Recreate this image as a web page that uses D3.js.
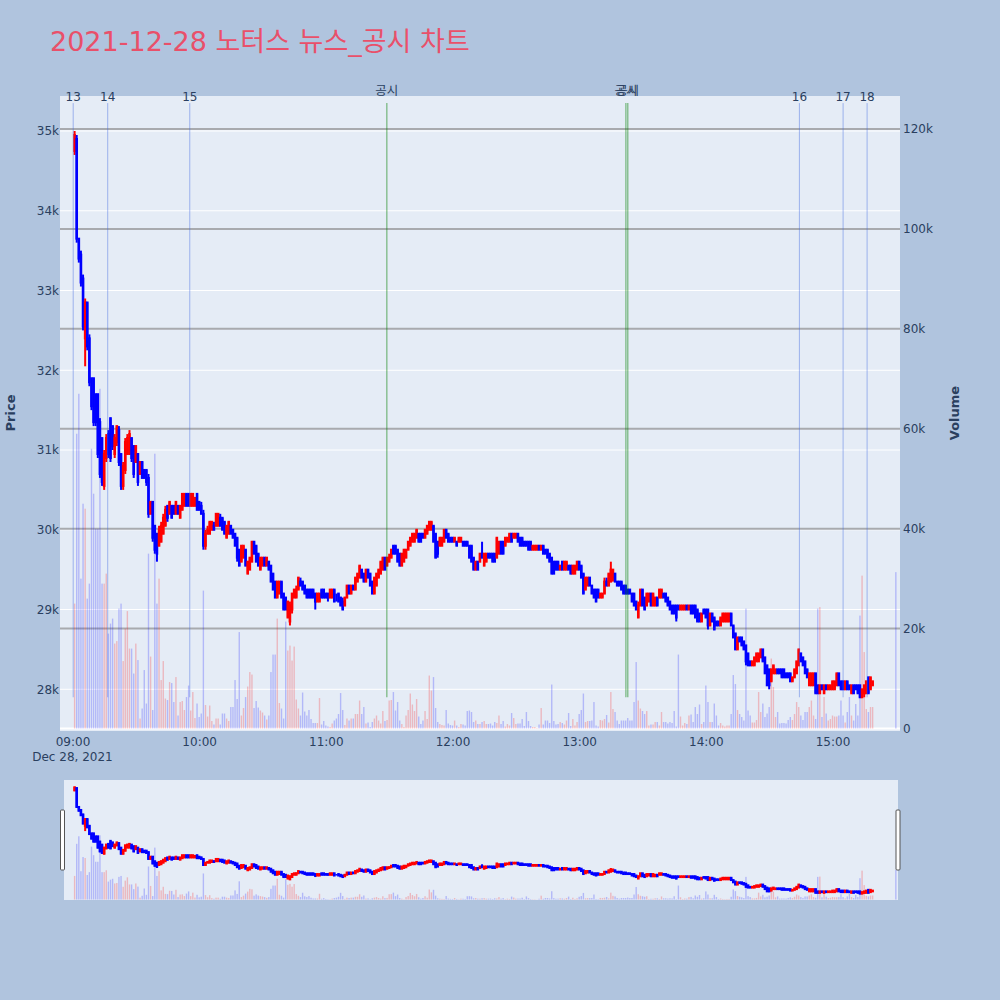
<!DOCTYPE html>
<html><head><meta charset="utf-8">
<script src="https://cdn.jsdelivr.net/npm/d3@7"></script>
<style>
body{margin:0;background:#b0c4de;}
svg{display:block;font-family:"DejaVu Sans","Noto Sans CJK KR",sans-serif;}
</style>
</head><body>
<svg id="chart" width="1000" height="1000"></svg>
<script>
// ---------------- DATA ----------------
const chartTitle = "2021-12-28 노터스 뉴스_공시 차트";
const dateLabel = "Dec 28, 2021";
const firstBar = "09:01", lastBar = "15:19", closingAuction = "15:30";

const openPrices = [
34750,34900,33650,33450,33150,32400,32850,32400,31900,31900,
31700,31700,31350,31150,30550,30900,31200,31400,31300,30950,
31100,31250,30950,30550,30750,30950,30950,31150,31050,30850,
30950,30700,30850,30750,30750,30650,30200,30350,30050,29950,
29800,29850,29950,30050,30300,30200,30300,30300,30200,30300,
30150,30250,30300,30450,30450,30300,30300,30300,30450,30350,
30300,30200,29800,29950,29950,30000,30050,30050,30050,30150,
30150,30100,29900,29950,30050,30000,29950,29900,29750,29600,
29650,29750,29450,29500,29600,29850,29800,29700,29500,29550,
29650,29550,29600,29550,29450,29350,29150,29200,29350,29200,
29150,28900,28850,29000,29150,29150,29250,29350,29350,29300,
29250,29250,29250,29250,29200,29100,29100,29250,29250,29200,
29200,29150,29150,29250,29150,29200,29150,29100,29050,29150,
29300,29200,29300,29250,29350,29400,29500,29450,29350,29500,
29450,29350,29200,29300,29400,29450,29500,29650,29550,29600,
29650,29800,29800,29750,29700,29550,29600,29650,29750,29800,
29850,29850,29900,29950,29950,29950,29900,29950,30000,30000,
30050,29950,29850,29800,29800,29850,30000,29950,29900,29900,
29850,29850,29850,29850,29850,29850,29850,29800,29800,29650,
29500,29600,29600,29700,29550,29600,29700,29700,29700,29700,
29650,29700,29850,29850,29800,29850,29850,29950,29900,29900,
29950,29900,29900,29850,29850,29850,29850,29750,29750,29750,
29800,29750,29800,29750,29750,29700,29650,29600,29600,29600,
29500,29600,29500,29500,29550,29550,29450,29450,29500,29600,
29550,29450,29250,29300,29400,29300,29250,29250,29250,29150,
29150,29200,29350,29300,29350,29400,29450,29350,29350,29350,
29300,29300,29250,29250,29200,29200,29100,28900,29050,29250,
29150,29050,29100,29200,29050,29050,29150,29150,29150,29200,
29200,29150,29100,29050,29050,29050,29050,29000,29000,29000,
29050,29000,29050,29050,29050,29000,28950,28850,29000,29000,
29000,28800,28950,28900,28850,28850,28800,28850,28850,28850,
28850,28950,28800,28700,28500,28650,28650,28600,28550,28450,
28350,28300,28300,28350,28350,28400,28500,28400,28300,28250,
28100,28200,28200,28250,28250,28250,28250,28200,28200,28200,
28100,28150,28200,28300,28450,28400,28350,28250,28050,28050,
28050,28200,28050,27950,28050,27950,28050,28000,28000,28000,
28000,28050,28200,28100,28100,28000,28100,28050,27950,28050,
28050,28050,28050,27900,27950,27950,28150,28000,28050];

const highPrices = [
35000,34950,33650,33500,33200,32900,32850,32450,31900,31900,
31700,31700,31400,31150,31000,31200,31250,31400,31300,31200,
31300,31300,30950,30850,31150,31200,31250,31150,31050,31050,
30950,30850,30850,30750,30750,30700,30350,30350,30050,29950,
30050,30100,30200,30300,30300,30350,30300,30300,30350,30300,
30300,30450,30450,30450,30450,30450,30450,30400,30450,30350,
30350,30250,30000,30050,30100,30100,30100,30200,30200,30200,
30150,30100,30050,30100,30050,30000,29950,29900,29750,29800,
29800,29750,29600,29650,29850,29850,29800,29700,29650,29650,
29650,29650,29600,29550,29450,29350,29350,29350,29350,29200,
29150,29100,29100,29200,29250,29300,29400,29400,29350,29300,
29250,29250,29250,29250,29200,29200,29200,29250,29250,29200,
29200,29250,29250,29250,29200,29200,29150,29150,29150,29300,
29300,29300,29300,29400,29450,29550,29500,29450,29500,29500,
29450,29350,29400,29450,29500,29600,29650,29650,29650,29700,
29750,29800,29800,29750,29700,29700,29750,29750,29850,29900,
29950,29950,30000,29950,29950,29950,30000,30050,30100,30100,
30050,29950,29850,29900,29900,30000,30000,29950,29900,29900,
29900,29850,29900,29900,29850,29850,29850,29800,29800,29650,
29600,29600,29700,29850,29700,29700,29700,29700,29700,29700,
29900,29850,29850,29850,29900,29900,29950,29950,29950,29950,
29950,29900,29900,29850,29850,29850,29850,29800,29800,29800,
29800,29800,29800,29750,29750,29700,29650,29600,29600,29600,
29550,29600,29600,29600,29550,29550,29550,29550,29600,29600,
29550,29450,29400,29400,29400,29300,29250,29250,29250,29200,
29200,29400,29400,29450,29600,29500,29450,29350,29350,29350,
29300,29300,29250,29250,29200,29200,29100,29100,29250,29250,
29150,29200,29200,29200,29200,29150,29150,29250,29250,29200,
29200,29150,29100,29050,29050,29050,29050,29050,29050,29050,
29050,29050,29050,29050,29050,29000,28950,28950,29000,29000,
29000,28950,28950,28900,28850,28850,28900,28950,28950,28950,
28950,28950,28800,28700,28650,28650,28650,28600,28550,28450,
28350,28350,28400,28450,28450,28500,28500,28400,28300,28250,
28250,28300,28250,28250,28250,28250,28250,28200,28200,28200,
28150,28250,28350,28500,28450,28400,28350,28250,28200,28200,
28200,28200,28050,28050,28050,28050,28050,28050,28050,28100,
28100,28200,28200,28100,28100,28100,28100,28050,28050,28050,
28050,28050,28050,28000,28050,28100,28150,28150,28100];

const lowPrices = [
34700,33600,33350,33050,32500,32050,32250,31800,31500,31300,
31300,30900,30650,30550,30500,30850,30900,30850,31000,30900,
31050,30800,30500,30500,30700,30950,30950,30850,30650,30850,
30550,30700,30650,30650,30550,30150,30200,29850,29700,29600,
29800,29850,29950,30050,30100,30200,30150,30200,30200,30200,
30150,30250,30300,30300,30300,30300,30300,30300,30250,30250,
30200,29750,29750,29950,29950,30000,30000,30050,30050,30050,
30000,29950,29900,29950,29950,29900,29800,29600,29550,29600,
29650,29550,29450,29500,29600,29700,29600,29550,29500,29550,
29550,29550,29500,29350,29250,29150,29150,29200,29150,29000,
29000,28900,28800,28950,29150,29150,29250,29300,29250,29200,
29150,29150,29150,29150,29000,29100,29100,29150,29150,29150,
29100,29150,29150,29100,29100,29100,29050,29000,29050,29150,
29200,29200,29250,29250,29350,29400,29400,29350,29350,29400,
29300,29200,29200,29300,29400,29450,29500,29500,29550,29600,
29650,29700,29700,29600,29550,29550,29600,29650,29750,29800,
29850,29850,29900,29850,29850,29900,29900,29950,30000,30000,
29850,29650,29650,29800,29800,29850,29900,29850,29850,29850,
29850,29800,29850,29850,29800,29800,29800,29650,29600,29500,
29500,29500,29600,29650,29550,29600,29650,29650,29600,29600,
29650,29700,29700,29700,29800,29850,29850,29850,29900,29900,
29850,29800,29800,29800,29800,29750,29750,29750,29750,29750,
29750,29750,29700,29700,29650,29600,29450,29450,29500,29500,
29500,29500,29500,29500,29500,29450,29450,29450,29500,29500,
29400,29200,29250,29300,29300,29200,29150,29100,29150,29150,
29150,29200,29300,29300,29350,29350,29350,29300,29300,29250,
29200,29200,29200,29200,29100,29050,29000,28900,29050,29050,
29000,29050,29100,29050,29050,29050,29050,29150,29150,29150,
29100,29050,29000,28950,28950,28850,29000,29000,29000,29000,
29000,29000,28950,28950,28900,28850,28850,28850,28950,28900,
28750,28800,28850,28750,28800,28800,28800,28850,28850,28850,
28850,28800,28650,28500,28500,28600,28550,28500,28300,28300,
28300,28300,28300,28350,28350,28400,28350,28200,28050,28000,
28100,28200,28200,28200,28200,28150,28150,28150,28150,28100,
28100,28150,28200,28300,28350,28300,28200,28150,28050,28050,
28050,27950,27950,27950,28000,27950,28000,28000,28000,28000,
28000,28050,28050,28000,28000,28000,28000,28000,27950,27950,
28000,27950,27900,27900,27900,27950,27950,28000,28050];

const closePrices = [
34950,33650,33400,33100,32550,32850,32300,31850,31550,31350,
31350,30950,30700,30600,30950,31150,30950,30900,31050,31150,
31300,30850,30550,30800,31100,31150,31200,30900,30700,31050,
30600,30850,30650,30650,30600,30200,30350,29900,29750,29700,
30000,30050,30150,30250,30150,30350,30150,30200,30350,30200,
30300,30450,30450,30300,30300,30450,30450,30400,30250,30250,
30200,29800,29950,30000,30100,30100,30000,30200,30200,30050,
30000,29950,30050,30100,29950,29900,29800,29650,29550,29800,
29800,29550,29600,29650,29850,29700,29600,29550,29650,29650,
29550,29650,29500,29350,29250,29150,29350,29350,29150,29000,
29000,29100,29050,29200,29250,29250,29400,29300,29250,29200,
29150,29150,29150,29150,29100,29200,29200,29150,29150,29150,
29150,29250,29250,29100,29150,29100,29050,29000,29150,29300,
29200,29300,29250,29400,29450,29550,29400,29350,29500,29400,
29300,29200,29400,29450,29500,29600,29650,29500,29650,29650,
29750,29700,29700,29600,29550,29700,29750,29750,29850,29900,
29950,29950,30000,29850,29850,29900,30000,30050,30100,30100,
29850,29650,29700,29900,29900,30000,29900,29850,29850,29850,
29900,29800,29900,29900,29800,29800,29800,29650,29600,29500,
29600,29500,29700,29650,29700,29700,29650,29650,29600,29600,
29900,29850,29700,29700,29900,29900,29950,29850,29950,29950,
29850,29800,29800,29800,29800,29750,29750,29800,29800,29800,
29750,29800,29700,29700,29650,29600,29450,29450,29500,29500,
29550,29500,29600,29600,29500,29450,29550,29550,29600,29500,
29400,29200,29400,29400,29300,29200,29150,29100,29150,29200,
29200,29350,29300,29450,29500,29500,29350,29300,29300,29250,
29200,29200,29200,29200,29100,29050,29000,29050,29250,29050,
29000,29200,29200,29050,29200,29150,29050,29250,29250,29150,
29100,29050,29000,28950,28950,28900,29000,29050,29050,29050,
29000,29050,28950,28950,28900,28850,28850,28950,28950,28900,
28800,28950,28850,28750,28800,28800,28900,28950,28950,28950,
28950,28800,28650,28500,28650,28600,28550,28500,28350,28300,
28300,28350,28400,28450,28450,28500,28350,28200,28050,28050,
28250,28300,28250,28200,28200,28150,28150,28150,28150,28100,
28150,28250,28350,28500,28350,28300,28200,28150,28200,28200,
28200,27950,27950,28050,28000,28050,28000,28050,28050,28100,
28100,28200,28050,28000,28000,28100,28000,28000,28050,27950,
28000,27950,27900,28000,28050,28100,27950,28150,28100];

// volume per minute, in thousands of shares
const volumeK = [
25,59,67,30,45,44,26,29,56,47,
40,40,68,29,29,31,19,21,22,17,
17.5,24,25,13.5,20,23.5,16,16,11,17,
13.7,2,4,11.7,5,35,14.4,3.7,55,25,
30,9.7,13.5,6,5.7,9.3,9.1,5.3,10.3,2.6,
5.3,5.5,3.7,6.3,8.6,3.6,7.3,2.1,5,2.3,
3,27.6,4.7,2.4,4.6,1.5,0.8,2,2,0.8,
3,3,2,1.5,4.3,4.3,9.7,5.9,19.3,2.6,
4.1,6.3,8.4,11.3,10.8,4.1,5.5,4.2,3.6,3.2,
2.6,1.8,2.6,11.3,14.8,14.8,22,5.1,4,2,
21.4,15.6,16.6,13.6,16.4,5.8,4,2.6,7.2,3.4,
2.6,3.7,1.9,1.1,1.1,1.1,6.1,0.8,1.5,0.6,
0.4,0.3,1,1.6,2,2.9,7.1,3.7,0.7,2,
1.6,2,2,2.9,2.9,5.6,2.9,4.3,1,1.2,
0.3,1.3,2,2.6,1.6,1,3.5,1.5,1.7,5.6,
5.7,7.3,3.6,5.3,1.6,0.9,0.3,2.6,3.7,7,
4.8,3.5,5.9,2.4,0.9,1.6,3.5,1.9,10.6,7.6,
10.3,4.1,1.3,0.9,0.7,0.6,3.7,1,0.7,0.6,
1.6,0.6,0.3,0.9,0.8,0.6,3.5,3.6,3.3,1.3,
1.6,0.9,0.9,1.3,1.5,0.9,0.9,1,0.6,1.3,
1.1,2.6,0.9,1.5,0.4,0.9,0.6,3.1,2.1,0.9,
1,1,1.9,0.5,3.3,1.5,0.5,0.3,0.3,0.1,
0.8,4.1,0.8,1.6,1.6,1.1,8.8,1.5,0.8,0.9,
1.3,1.1,0.8,1.6,3.1,0.5,1.9,0.6,1.3,2.9,
3.7,7,1.3,1.5,1.5,1.6,5.3,0.6,0.4,1.7,
1.6,1.9,2.7,1.2,7.3,3.9,3.3,1.6,0.9,1.6,
1.6,1.6,2.1,1.6,1.6,5.3,13.3,5.6,4,3.5,
2.9,3.5,0.6,0.8,0.8,1.3,1.3,0.6,3.3,1.3,
1.3,1,1.3,1.1,3.5,0.4,14.8,2.4,0.6,1.1,
0.9,2.6,2.8,1.3,4.3,2.9,4.8,0.9,1.3,8.6,
5.3,1.3,1.3,5,2.6,0.6,1.1,0.6,0.4,0.6,
0.6,2.9,10.7,8.9,3.7,2.9,2.3,1.6,24,3.6,
2.6,1.2,1.2,1.7,7.3,3.3,5,2.3,3,4.3,
14,8.3,2.3,3.3,1,1.1,1.1,1,1.7,2.3,
1.7,2.9,5.3,4.3,2.6,1.7,3.3,3.3,4.3,5.6,
2.6,1.9,24,24.3,2.3,6.3,3,1.6,1.9,2.6,
2.4,2.4,2.6,5.6,2.6,1.2,3.3,6.3,2.6,1.6,
4.9,2.6,22.6,30.6,15.3,3.9,3.3,4.3,4.3];

// closing auction bar (15:30)
const auctionOHLC = [28050, 28050, 28050, 28050];
const auctionVolumeK = 31.3;

// news / disclosure markers
const eventTimes  = ["09:00:20","09:16:41","09:55:33","11:28:54","13:22:08","13:23:02","14:44:19","15:05:01","15:16:23"];
const eventLabels = ["13","14","15","공시","공시","공시","16","17","18"];
const eventKinds  = ["news","news","news","disclosure","disclosure","disclosure","news","news","news"];

const priceTicks  = [28000,29000,30000,31000,32000,33000,34000,35000];
const volumeTicks = [0,20000,40000,60000,80000,100000,120000];

// ---------------- CHART ----------------
const T = s => { const p = s.split(":").map(Number); return new Date(2021, 11, 28, p[0], p[1], p[2] || 0); };
const times = d3.timeMinute.range(T(firstBar), d3.timeMinute.offset(T(lastBar), 1)).concat([T(closingAuction)]);
const bars = times.map((t, i) => {
  const last = i >= openPrices.length;
  return {
    t,
    o: last ? auctionOHLC[0] : openPrices[i],
    h: last ? auctionOHLC[1] : highPrices[i],
    l: last ? auctionOHLC[2] : lowPrices[i],
    c: last ? auctionOHLC[3] : closePrices[i],
    v: (last ? auctionVolumeK : volumeK[i]) * 1000
  };
});

const svg = d3.select("#chart");
const P = {l: 60, r: 900, t: 96, b: 731};
const S = {l: 64, r: 898, t: 780, b: 900};

const x = d3.scaleTime().domain([T("08:54:05"), T("15:31:58")]).range([P.l, P.r]);
const y = d3.scaleLinear().domain([27477, 35439]).range([P.b, P.t]);
const yv = d3.scaleLinear().domain([-500, 126600]).range([P.b, P.t]);
const ys = d3.scaleLinear().domain(y.domain()).range([S.b, S.t]);
const yvs = d3.scaleLinear().domain(yv.domain()).range([S.b, S.t]);

const tickColor = "#2a3f5f";

// title
svg.append("text").attr("x", 50).attr("y", 51)
  .attr("font-size", 27).attr("fill", "#e9506a").text(chartTitle);

// plot background
svg.append("rect").attr("x", P.l).attr("y", P.t).attr("width", P.r - P.l).attr("height", P.b - P.t).attr("fill", "#e5ecf6");

const defs = svg.append("defs");
defs.append("clipPath").attr("id", "clipMain").append("rect")
  .attr("x", P.l).attr("y", P.t).attr("width", P.r - P.l).attr("height", P.b - P.t);
defs.append("clipPath").attr("id", "clipSlider").append("rect")
  .attr("x", S.l).attr("y", S.t).attr("width", S.r - S.l).attr("height", S.b - S.t);

// gridlines
const grid = svg.append("g");
grid.selectAll(".pg").data(priceTicks).join("line")
  .attr("x1", P.l).attr("x2", P.r).attr("y1", d => y(d)).attr("y2", d => y(d))
  .attr("stroke", "#ffffff").attr("stroke-width", 1);
grid.selectAll(".vg").data(volumeTicks.filter(d => d > 0)).join("line")
  .attr("x1", P.l).attr("x2", P.r).attr("y1", d => yv(d)).attr("y2", d => yv(d))
  .attr("stroke", "#a8aaae").attr("stroke-width", 2);
grid.append("line").attr("x1", P.l).attr("x2", P.r).attr("y1", yv(0)).attr("y2", yv(0))
  .attr("stroke", "#ffffff").attr("stroke-width", 2);

function drawSeries(g, yP, yV) {
  g.selectAll(".vol").data(bars).join("rect")
    .attr("x", d => x(d.t) - 0.7).attr("width", 1.4)
    .attr("y", d => yV(d.v)).attr("height", d => Math.max(0, yV(0) - yV(d.v)))
    .attr("fill", d => d.c > d.o ? "rgba(255,0,0,0.22)" : "rgba(0,0,255,0.22)");
  const cg = g.selectAll(".candle").data(bars).join("g")
    .attr("stroke", d => d.c > d.o ? "#ff0000" : "#0000ff")
    .attr("fill", d => d.c > d.o ? "#ff0000" : "#0000ff");
  cg.append("line")
    .attr("x1", d => x(d.t)).attr("x2", d => x(d.t))
    .attr("y1", d => yP(d.h)).attr("y2", d => yP(d.l)).attr("stroke-width", 2);
  cg.append("rect")
    .attr("x", d => x(d.t) - 0.3).attr("width", 0.6)
    .attr("y", d => yP(Math.max(d.o, d.c)))
    .attr("height", d => Math.abs(yP(d.o) - yP(d.c)))
    .attr("stroke-width", 2);
}

drawSeries(svg.append("g").attr("clip-path", "url(#clipMain)"), y, yv);

// event markers
const lineTop = d3.max(bars, d => d.h) * 1.01;
const lineBottom = d3.min(bars, d => d.l);
const events = eventTimes.map((t, i) => ({t: T(t), label: eventLabels[i], kind: eventKinds[i]}));
const eg = svg.append("g");
eg.selectAll("line").data(events).join("line")
  .attr("x1", d => x(d.t)).attr("x2", d => x(d.t))
  .attr("y1", y(lineTop)).attr("y2", y(lineBottom))
  .attr("stroke", d => d.kind === "news" ? "rgba(65,105,225,0.45)" : "rgba(0,128,0,0.5)")
  .attr("stroke-width", d => d.kind === "news" ? 1 : 1.2);
eg.selectAll("text").data(events).join("text")
  .attr("x", d => x(d.t)).attr("y", d => d.kind === "news" ? 101 : 95)
  .attr("text-anchor", "middle").attr("font-size", d => d.kind === "news" ? 12 : 12.5).attr("fill", tickColor)
  .text(d => d.label);

// axes
function styleAxis(g) {
  g.select(".domain").remove();
  g.selectAll("text").attr("fill", tickColor).attr("font-size", 12)
    .attr("font-family", "DejaVu Sans, sans-serif");
}
svg.append("g").attr("transform", `translate(${P.l},0)`)
  .call(d3.axisLeft(y).tickValues(priceTicks).tickSize(0).tickPadding(1).tickFormat(d => d / 1000 + "k"))
  .call(styleAxis);
svg.append("g").attr("transform", `translate(${P.r},0)`)
  .call(d3.axisRight(yv).tickValues(volumeTicks).tickSize(0).tickPadding(3).tickFormat(d => d === 0 ? "0" : d / 1000 + "k"))
  .call(styleAxis);
svg.append("g").attr("transform", `translate(0,${P.b})`)
  .call(d3.axisBottom(x).ticks(d3.timeHour.every(1)).tickSize(0).tickPadding(6).tickFormat(d3.timeFormat("%H:%M")))
  .call(styleAxis);
svg.append("text").attr("x", x(T("09:00"))).attr("y", 761).attr("text-anchor", "middle")
  .attr("font-size", 12).attr("fill", tickColor).text(dateLabel);

// axis titles
svg.append("text").attr("transform", "translate(10,413) rotate(-90)").attr("text-anchor", "middle")
  .attr("dominant-baseline", "central")
  .attr("font-size", 13).attr("font-weight", "bold").attr("fill", tickColor).text("Price");
svg.append("text").attr("transform", "translate(954,413) rotate(-90)").attr("text-anchor", "middle")
  .attr("dominant-baseline", "central")
  .attr("font-size", 13).attr("font-weight", "bold").attr("fill", tickColor).text("Volume");

// range slider
svg.append("rect").attr("x", S.l).attr("y", S.t).attr("width", S.r - S.l).attr("height", S.b - S.t).attr("fill", "#e5ecf6");
drawSeries(svg.append("g").attr("clip-path", "url(#clipSlider)"), ys, yvs);
[60.5, 896].forEach(gx => {
  svg.append("rect").attr("x", gx).attr("y", 810).attr("width", 4).attr("height", 60)
    .attr("rx", 1).attr("fill", "#ffffff").attr("stroke", "#555").attr("stroke-width", 1);
});
</script>
</body></html>
